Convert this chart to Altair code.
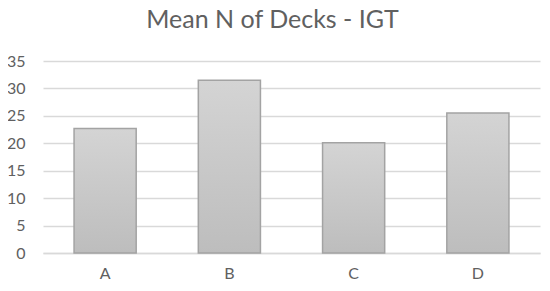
import altair as alt
import pandas as pd

decks = ["A", "B", "C", "D"]
means = [22.7, 31.5, 20.1, 25.5]
y_ticks = [0, 5, 10, 15, 20, 25, 30, 35]

df = pd.DataFrame({"deck": decks, "mean": means})

TEXT = "#606060"
GRID = "#d9d9d9"
FONT = "Lato"

grad = alt.Gradient(
    gradient="linear",
    stops=[alt.GradientStop(color="#d4d4d4", offset=0),
           alt.GradientStop(color="#bdbdbd", offset=1)],
    x1=0, x2=0, y1=0, y2=1,
)

chart = alt.Chart(df).mark_bar(
    color=grad, stroke="#a3a3a3", strokeWidth=1.5
).encode(
    x=alt.X("deck:N", sort=decks,
            scale=alt.Scale(paddingInner=0.5, paddingOuter=0.25),
            axis=alt.Axis(title=None, labelAngle=0, ticks=False,
                          domain=True, domainColor=GRID, domainWidth=1.5,
                          labelColor=TEXT, labelFont=FONT, labelFontSize=16,
                          labelPadding=12, grid=False)),
    y=alt.Y("mean:Q", scale=alt.Scale(domain=[0, 35], nice=False),
            axis=alt.Axis(title=None, values=y_ticks, ticks=False,
                          domain=False, grid=True, gridColor=GRID,
                          gridWidth=1.5, labelColor=TEXT, labelFont=FONT,
                          labelFontSize=16, labelPadding=18)),
).properties(
    width=497,
    height=192,
    autosize=alt.AutoSizeParams(type="none"),
    padding={"left": 35, "top": 53, "right": 2, "bottom": 30},
    title=alt.TitleParams("Mean N of Decks - IGT", color=TEXT, font=FONT,
                          fontSize=25, fontWeight="normal", offset=20,
                          dx=-19, anchor="middle"),
).configure_view(stroke=None)

chart.save("out.html", embed_options={"renderer": "svg", "actions": False})
